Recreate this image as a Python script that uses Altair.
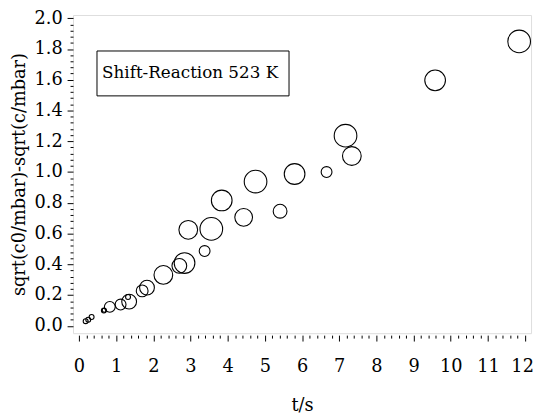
import altair as alt
import pandas as pd

# Data
t_s = [0.18, 0.25, 0.34, 0.67, 0.68, 0.83, 1.12, 1.32, 1.35, 1.70, 1.83, 2.27, 2.70,
       2.84, 2.94, 3.38, 3.56, 3.84, 4.43, 4.75, 5.41, 5.80, 6.66, 7.17, 7.34, 9.58, 11.84]
sqrt_diff = [0.030, 0.040, 0.057, 0.099, 0.101, 0.123, 0.138, 0.187, 0.157, 0.227, 0.248,
             0.331, 0.390, 0.408, 0.624, 0.486, 0.630, 0.815, 0.705, 0.938, 0.745, 0.987,
             1.000, 1.236, 1.104, 1.596, 1.849]
bubble = [5, 5, 5, 5, 4, 11, 11, 5, 15, 12, 15, 19, 15, 21, 19, 11, 23, 21, 18, 23, 14,
          21, 11, 23, 19, 21, 23]

x_minor = [round(i * 0.2, 1) for i in range(0, 61)]
y_minor = [round(i * 0.04, 2) for i in range(0, 51)]

annotation_text = "Shift-Reaction 523 K"
x_title = "t/s"
y_title = "sqrt(c0/mbar)-sqrt(c/mbar)"

FONT = "DejaVu Serif"

df = pd.DataFrame({"t": t_s, "y": sqrt_diff, "d": bubble})

x_scale = alt.Scale(domain=[-0.16, 12.16], nice=False, zero=False)
y_scale = alt.Scale(domain=[-0.048, 2.021], nice=False, zero=False)

x_major_test = "abs(datum.value - round(datum.value)) < 1e-6"
y_major_test = "abs(datum.value * 5 - round(datum.value * 5)) < 1e-6"

x_axis = alt.Axis(
    values=x_minor,
    tickCount=500,
    title=x_title,
    format=".0f",
    labelExpr=x_major_test + " ? datum.label : ''",
    labelOffset={"condition": {"test": "datum.value > 11.9", "value": -3}, "value": 0},
    tickSize={"condition": {"test": x_major_test, "value": 6}, "value": 3},
    tickColor="black",
    tickWidth=1,
    domain=False,
    grid=False,
    offset=2,
    labelFont=FONT,
    labelFontSize=18,
    labelColor="black",
    labelPadding=17,
    labelOverlap=False,
    labelFlush=False,
    titleFont=FONT,
    titleFontSize=18,
    titleFontWeight="normal",
    titleColor="black",
    titlePadding=22,
)

y_axis = alt.Axis(
    values=y_minor,
    tickCount=500,
    title=y_title,
    format=".1f",
    labelExpr=y_major_test + " ? datum.label : ''",
    tickSize={"condition": {"test": y_major_test, "value": 6}, "value": 3},
    tickColor="black",
    tickWidth=1,
    domain=False,
    grid=False,
    labelFont=FONT,
    labelFontSize=18,
    labelColor="black",
    labelPadding=5,
    labelOverlap=False,
    labelFlush=False,
    titleFont=FONT,
    titleFontSize=18,
    titleFontWeight="normal",
    titleColor="black",
    titlePadding=6,
)

points = alt.Chart(df).mark_point(
    shape="circle", filled=False, color="black", strokeWidth=1.1, opacity=1
).encode(
    x=alt.X("t:Q", scale=x_scale, axis=x_axis),
    y=alt.Y("y:Q", scale=y_scale, axis=y_axis),
    size=alt.Size("d:Q", scale=alt.Scale(type="pow", exponent=2, domain=[0, 30], range=[0, 900]), legend=None),
)

# annotation box (in data units)
box_df = pd.DataFrame({"x1": [0.485], "x2": [5.65], "y1": [1.495], "y2": [1.787]})
box = alt.Chart(box_df).mark_rect(fill="white", stroke="black", strokeWidth=1).encode(
    x=alt.X("x1:Q", scale=x_scale), x2="x2:Q",
    y=alt.Y("y1:Q", scale=y_scale), y2="y2:Q",
)

label_df = pd.DataFrame({"x": [2.99], "y": [1.612], "text": [annotation_text]})
label = alt.Chart(label_df).mark_text(
    font=FONT, fontSize=17, color="black", align="center", baseline="alphabetic"
).encode(
    x=alt.X("x:Q", scale=x_scale), y=alt.Y("y:Q", scale=y_scale), text="text:N"
)

chart = alt.layer(points, box, label).properties(
    width=465, height=323,
    autosize=alt.AutoSizeParams(type="none"),
    padding={"left": 66, "top": 4, "right": 3, "bottom": 82},
).configure_view(stroke="black", strokeWidth=1).configure(background="white")

chart.save("out.html", embed_options={"renderer": "svg", "actions": False})
